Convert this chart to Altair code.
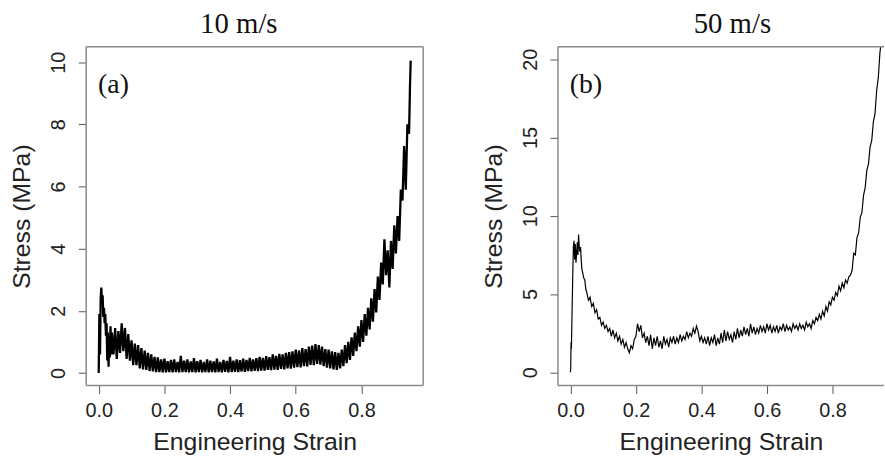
import altair as alt
import pandas as pd

titles = ["10 m/s", "50 m/s"]
panel_tags = ["(a)", "(b)"]
x_title = "Engineering Strain"
y_title = "Stress (MPa)"
x_ticks = [0.0, 0.2, 0.4, 0.6, 0.8]
y_ticks_a = [0, 2, 4, 6, 8, 10]
y_ticks_b = [0, 5, 10, 15, 20]

# ---- panel (a): 10 m/s ----
strain_a = [
    0.000, 0.002, 0.004, 0.006, 0.008, 0.010, 0.012, 0.014, 0.016, 0.018,
    0.020, 0.022, 0.024, 0.026, 0.028, 0.030, 0.032, 0.034, 0.036, 0.038,
    0.040, 0.045, 0.050, 0.055, 0.060, 0.065, 0.070, 0.075, 0.080, 0.085,
    0.090, 0.095, 0.100, 0.105, 0.110, 0.115, 0.120, 0.125, 0.130, 0.135,
    0.140, 0.145, 0.150, 0.155, 0.160, 0.165, 0.170, 0.175, 0.180, 0.185,
    0.190, 0.195, 0.200, 0.205, 0.210, 0.215, 0.220, 0.225, 0.230, 0.235,
    0.240, 0.245, 0.250, 0.255, 0.260, 0.265, 0.270, 0.275, 0.280, 0.285,
    0.290, 0.295, 0.300, 0.305, 0.310, 0.315, 0.320, 0.325, 0.330, 0.335,
    0.340, 0.345, 0.350, 0.355, 0.360, 0.365, 0.370, 0.375, 0.380, 0.385,
    0.390, 0.395, 0.400, 0.405, 0.410, 0.415, 0.420, 0.425, 0.430, 0.435,
    0.440, 0.445, 0.450, 0.455, 0.460, 0.465, 0.470, 0.475, 0.480, 0.485,
    0.490, 0.495, 0.500, 0.505, 0.510, 0.515, 0.520, 0.525, 0.530, 0.535,
    0.540, 0.545, 0.550, 0.555, 0.560, 0.565, 0.570, 0.575, 0.580, 0.585,
    0.590, 0.595, 0.600, 0.605, 0.610, 0.615, 0.620, 0.625, 0.630, 0.635,
    0.640, 0.645, 0.650, 0.655, 0.660, 0.665, 0.670, 0.675, 0.680, 0.685,
    0.690, 0.695, 0.700, 0.705, 0.710, 0.715, 0.720, 0.725, 0.730, 0.735,
    0.740, 0.745, 0.750, 0.755, 0.760, 0.765, 0.770, 0.775, 0.780, 0.785,
    0.790, 0.795, 0.800, 0.805, 0.810, 0.815, 0.820, 0.825, 0.830, 0.835,
    0.840, 0.845, 0.850, 0.855, 0.860, 0.865, 0.870, 0.875, 0.880, 0.885,
    0.890, 0.895, 0.900, 0.905, 0.910, 0.915, 0.920, 0.925, 0.930, 0.935,
    0.940, 0.945, 0.948, 0.950,
]
stress_a = [
    0.0, 1.9, 0.6, 2.4, 2.75, 2.2, 2.5, 1.8, 2.1, 1.6,
    1.9, 1.2, 1.6, 0.4, 1.3, 0.2, 1.2, 0.5, 1.5, 0.6,
    1.3, 0.6, 1.45, 0.45, 1.35, 0.65, 1.6, 0.7, 1.45, 0.45,
    1.25, 0.4, 1.05, 0.25, 0.95, 0.25, 0.9, 0.15, 0.8, 0.12,
    0.72, 0.1, 0.65, 0.06, 0.6, 0.05, 0.52, 0.03, 0.5, 0.03,
    0.44, 0.02, 0.46, 0.02, 0.38, 0.03, 0.42, 0.02, 0.44, 0.03,
    0.36, 0.02, 0.55, 0.03, 0.4, 0.03, 0.44, 0.02, 0.37, 0.03,
    0.48, 0.02, 0.38, 0.03, 0.42, 0.02, 0.36, 0.03, 0.44, 0.02,
    0.4, 0.03, 0.37, 0.02, 0.46, 0.03, 0.36, 0.02, 0.42, 0.04,
    0.39, 0.02, 0.52, 0.03, 0.4, 0.04, 0.44, 0.03, 0.41, 0.05,
    0.46, 0.04, 0.42, 0.06, 0.49, 0.05, 0.44, 0.07, 0.48, 0.06,
    0.52, 0.08, 0.49, 0.08, 0.54, 0.1, 0.51, 0.09, 0.6, 0.11,
    0.55, 0.1, 0.62, 0.13, 0.6, 0.12, 0.65, 0.15, 0.67, 0.14,
    0.7, 0.17, 0.75, 0.19, 0.73, 0.18, 0.8, 0.22, 0.77, 0.21,
    0.85, 0.26, 0.88, 0.25, 0.93, 0.29, 0.9, 0.27, 0.85, 0.22,
    0.77, 0.17, 0.75, 0.15, 0.7, 0.12, 0.67, 0.1, 0.65, 0.15,
    0.75, 0.22, 0.9, 0.32, 1.0, 0.42, 1.15, 0.55, 1.3, 0.7,
    1.5, 0.85, 1.7, 1.0, 1.9, 1.2, 2.1, 1.4, 2.4, 1.65,
    2.7, 1.95, 3.1, 2.35, 3.55, 2.85, 4.3, 3.15, 3.95, 2.75,
    4.25, 3.35, 4.75, 3.85, 5.05, 4.25, 5.9, 5.55, 7.3, 5.9,
    8.0, 7.7, 9.3, 10.05,
]

# ---- panel (b): 50 m/s ----
strain_b = [
    0.000, 0.001, 0.002, 0.003, 0.005, 0.007, 0.009, 0.011, 0.013, 0.015,
    0.017, 0.019, 0.021, 0.023, 0.025, 0.027, 0.029, 0.031, 0.033, 0.035,
    0.038, 0.041, 0.044, 0.047, 0.050, 0.055, 0.060, 0.065, 0.070, 0.075,
    0.080, 0.085, 0.090, 0.095, 0.100, 0.105, 0.110, 0.115, 0.120, 0.125,
    0.130, 0.135, 0.140, 0.145, 0.150, 0.155, 0.160, 0.165, 0.170, 0.175,
    0.180, 0.185, 0.190, 0.195, 0.200, 0.205, 0.210, 0.215, 0.220, 0.225,
    0.230, 0.235, 0.240, 0.245, 0.250, 0.255, 0.260, 0.265, 0.270, 0.275,
    0.280, 0.285, 0.290, 0.295, 0.300, 0.305, 0.310, 0.315, 0.320, 0.325,
    0.330, 0.335, 0.340, 0.345, 0.350, 0.355, 0.360, 0.365, 0.370, 0.375,
    0.380, 0.385, 0.390, 0.395, 0.400, 0.405, 0.410, 0.415, 0.420, 0.425,
    0.430, 0.435, 0.440, 0.445, 0.450, 0.455, 0.460, 0.465, 0.470, 0.475,
    0.480, 0.485, 0.490, 0.495, 0.500, 0.505, 0.510, 0.515, 0.520, 0.525,
    0.530, 0.535, 0.540, 0.545, 0.550, 0.555, 0.560, 0.565, 0.570, 0.575,
    0.580, 0.585, 0.590, 0.595, 0.600, 0.605, 0.610, 0.615, 0.620, 0.625,
    0.630, 0.635, 0.640, 0.645, 0.650, 0.655, 0.660, 0.665, 0.670, 0.675,
    0.680, 0.685, 0.690, 0.695, 0.700, 0.705, 0.710, 0.715, 0.720, 0.725,
    0.730, 0.735, 0.740, 0.745, 0.750, 0.755, 0.760, 0.765, 0.770, 0.775,
    0.780, 0.785, 0.790, 0.795, 0.800, 0.805, 0.810, 0.815, 0.820, 0.825,
    0.830, 0.835, 0.840, 0.845, 0.850, 0.855, 0.860, 0.865, 0.870, 0.875,
    0.880, 0.885, 0.890, 0.895, 0.900, 0.905, 0.910, 0.915, 0.920, 0.925,
    0.930, 0.935, 0.940, 0.945, 0.950,
]
stress_b = [
    0.0, 0.3, 1.9, 1.5, 3.8, 6.0, 8.0, 8.4, 7.2, 8.2,
    7.0, 7.6, 8.3, 7.5, 8.8, 8.0, 7.7, 8.0, 7.2, 6.6,
    6.3, 6.0, 5.9, 5.3, 5.1, 4.6, 4.8, 4.2, 4.4, 3.8,
    4.0, 3.4, 3.5, 3.0, 3.2, 2.8, 3.0, 2.6, 2.8, 2.3,
    2.7, 2.2, 2.5, 2.0, 2.3, 1.8, 2.1, 1.6, 1.9, 1.5,
    1.25, 1.7, 1.5, 2.1, 2.3, 3.1, 2.6, 3.0, 2.2, 2.5,
    1.9, 2.3, 1.7, 2.4, 1.5, 2.2, 1.7, 2.3, 1.6, 2.0,
    1.5, 2.3, 1.8, 2.1, 1.6, 2.2, 1.9, 2.3, 1.8, 2.2,
    1.9, 2.4, 2.0, 2.3, 2.1, 2.6, 2.2, 2.5, 2.3, 2.8,
    2.5, 2.95, 2.6, 2.0, 2.3, 1.9, 2.2, 1.8, 2.3, 1.7,
    2.2, 1.9, 2.4, 1.7, 2.2, 1.8, 2.5, 1.9, 2.7, 2.0,
    2.6, 2.1, 2.4, 1.9, 2.6, 2.1, 2.8, 2.2, 2.7, 2.3,
    2.9, 2.4, 2.8, 2.3, 3.1, 2.5, 2.9, 2.4, 2.8, 2.5,
    3.0, 2.6, 2.9, 2.5, 3.1, 2.7, 3.0, 2.5, 2.9, 2.6,
    3.0, 2.5, 2.9, 2.7, 3.1, 2.6, 3.0, 2.7, 2.9, 2.6,
    3.1, 2.8, 3.0, 2.7, 3.1, 2.8, 3.0, 2.7, 3.2, 2.9,
    3.1, 2.8, 3.3, 3.1, 3.5, 3.3, 3.7, 3.4, 3.9, 3.6,
    4.2, 3.9, 4.5, 4.3, 4.8, 4.6, 5.1, 4.9, 5.5, 5.2,
    5.7, 5.4, 5.9, 5.7, 6.1, 6.2, 6.5, 7.6, 7.5, 8.6,
    8.9, 9.9, 10.2, 11.3, 11.8, 12.9, 13.3, 14.4, 14.8, 16.0,
    16.5, 18.0, 18.8, 20.4, 21.3,
]

H = 342
W_A = 340
W_B = 329
FRAME = "#8a8a8a"
TXT = "#222222"
one = pd.DataFrame({"k": [0]})


def panel(strain, stress, xdom, ydom, yticks, W, title, title_x, tag, right_edge, lw):
    df = pd.DataFrame({"strain": strain, "stress": stress, "i": list(range(len(strain)))})
    line = alt.Chart(df).mark_line(color="black", strokeWidth=lw, clip=True).encode(
        x=alt.X("strain:Q",
                scale=alt.Scale(domain=xdom, nice=False, zero=False),
                axis=alt.Axis(values=x_ticks, format=".1f", title=x_title,
                              labelPadding=7, titlePadding=10)),
        y=alt.Y("stress:Q",
                scale=alt.Scale(domain=ydom, nice=False, zero=False),
                axis=alt.Axis(values=yticks, format="d", title=y_title,
                              labelAngle=270, labelAlign="center",
                              labelBaseline="bottom", labelPadding=10,
                              titlePadding=14)),
        order="i:Q",
    )
    base = alt.Chart(one)
    left = base.mark_rule(color=FRAME, strokeWidth=1.5).encode(
        x=alt.value(0), y=alt.value(0), y2=alt.value(H))
    top = base.mark_rule(color=FRAME, strokeWidth=1.5).encode(
        x=alt.value(0), x2=alt.value(W), y=alt.value(0))
    bottom = base.mark_rule(color=FRAME, strokeWidth=1.5).encode(
        x=alt.value(0), x2=alt.value(W), y=alt.value(H))
    layers = [line, left, top, bottom]
    if right_edge:
        layers.append(base.mark_rule(color=FRAME, strokeWidth=1.5).encode(
            x=alt.value(W), y=alt.value(0), y2=alt.value(H)))
    tag_text = base.mark_text(font="Liberation Serif", fontSize=28, align="left",
                              baseline="middle", color="#111").encode(
        x=alt.value(12), y=alt.value(39), text=alt.value(tag))
    title_text = base.mark_text(font="Liberation Serif", fontSize=29, align="center",
                                baseline="alphabetic", color="#111").encode(
        x=alt.value(title_x), y=alt.value(-14), text=alt.value(title))
    layers += [tag_text, title_text]
    return alt.layer(*layers).properties(width=W, height=H)


pa = panel(strain_a, stress_a, [-0.038, 0.988], [-0.404, 10.5], y_ticks_a, W_A,
           titles[0], 154, panel_tags[0], True, 2.3)
pb = panel(strain_b, stress_b, [-0.038, 0.9575], [-0.85, 20.8], y_ticks_b, W_B,
           titles[1], 176, panel_tags[1], False, 1.2)

chart = alt.hconcat(pa, pb, spacing=57).properties(
    padding={"left": 10, "top": 8, "right": 0, "bottom": 0},
    background="white",
).configure_view(stroke=None).configure_axis(
    domain=False, grid=False, ticks=True, tickSize=8, tickColor="#555", tickWidth=1,
    labelFont="Liberation Sans", labelFontSize=20, labelColor=TXT,
    titleFont="Liberation Sans", titleFontSize=25, titleFontWeight="normal",
    titleColor=TXT,
)

chart.save("out.html", embed_options={"renderer": "svg", "actions": False})
